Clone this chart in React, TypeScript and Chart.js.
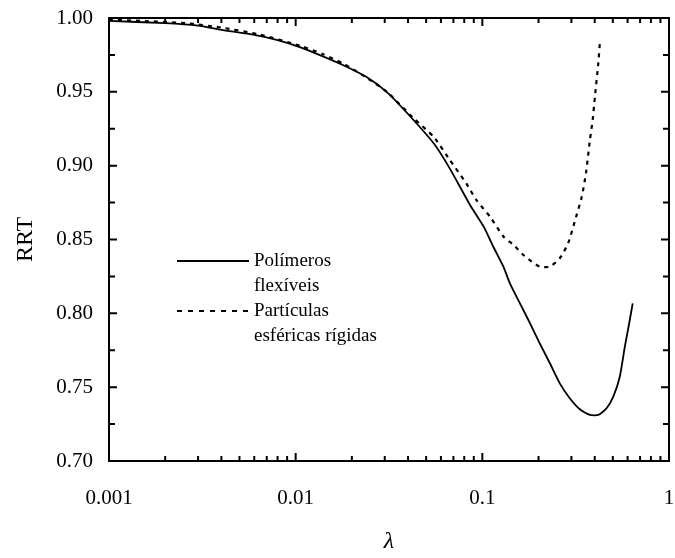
import React, { useEffect, useRef } from "react";
import { Chart, registerables } from "chart.js";

Chart.register(...registerables);

const lambdaFlex = [0.001, 0.002, 0.003, 0.004, 0.006, 0.008, 0.0107, 0.014, 0.018, 0.024, 0.031, 0.04, 0.055, 0.067, 0.0859, 0.1017, 0.1145, 0.1297, 0.1405, 0.159, 0.18, 0.203, 0.23, 0.26, 0.294, 0.333, 0.377, 0.418, 0.463, 0.503, 0.545, 0.58, 0.612, 0.639];
const rrtFlex = [0.998, 0.9965, 0.9948, 0.992, 0.9885, 0.985, 0.98, 0.974, 0.968, 0.96, 0.9495, 0.935, 0.915, 0.898, 0.8734, 0.8587, 0.8451, 0.8316, 0.8203, 0.8068, 0.7933, 0.7797, 0.7662, 0.7526, 0.7425, 0.735, 0.7312, 0.7312, 0.7357, 0.7436, 0.7571, 0.7774, 0.7933, 0.8068];

const lambdaRigid = [0.001, 0.0015, 0.0026, 0.004, 0.0063, 0.0107, 0.014, 0.0182, 0.0237, 0.0308, 0.0425, 0.0548, 0.067, 0.082, 0.093, 0.11, 0.13, 0.147, 0.166, 0.184, 0.203, 0.23, 0.26, 0.288, 0.318, 0.341, 0.359, 0.377, 0.39, 0.401, 0.418, 0.426];
const rrtRigid = [0.9988, 0.998, 0.9965, 0.9935, 0.989, 0.981, 0.9755, 0.9688, 0.96, 0.95, 0.9325, 0.9196, 0.9038, 0.888, 0.8767, 0.8654, 0.8519, 0.8463, 0.8395, 0.835, 0.8316, 0.8316, 0.8373, 0.8474, 0.8654, 0.879, 0.8948, 0.9174, 0.9309, 0.9467, 0.9693, 0.9829];

const xDecades = [0.001, 0.01, 0.1, 1];
const xTickLabels = ["0.001", "0.01", "0.1", "1"];
const seriesLabels = [["Polímeros", "flexíveis"], ["Partículas", "esféricas rígidas"]];
const yTitle = "RRT";
const xTitle = "λ";

const FONT = "'Liberation Serif', 'Times New Roman', serif";

const framePlugin = {
  id: "frameTicks",
  afterDraw(chart: any) {
    const { ctx, chartArea: a, scales } = chart;
    const xs = scales.x;
    const ys = scales.y;
    ctx.save();
    ctx.strokeStyle = "#000";
    ctx.lineWidth = 2;
    ctx.strokeRect(a.left, a.top, a.right - a.left, a.bottom - a.top);
    ctx.lineWidth = 2;
    for (let d = 0; d < xDecades.length; d++) {
      const base = xDecades[d];
      for (let m = 1; m <= 9; m++) {
        const v = base * m;
        if (v > 1.0001) break;
        const px = xs.getPixelForValue(v);
        const len = m === 1 ? 8 : 5;
        ctx.beginPath();
        ctx.moveTo(px, a.bottom);
        ctx.lineTo(px, a.bottom - len);
        ctx.moveTo(px, a.top);
        ctx.lineTo(px, a.top + len);
        ctx.stroke();
      }
    }
    for (let i = 0; i <= 12; i++) {
      const v = 0.7 + i * 0.025;
      const py = ys.getPixelForValue(v);
      const len = i % 2 === 0 ? 8 : 6;
      ctx.beginPath();
      ctx.moveTo(a.left, py);
      ctx.lineTo(a.left + len, py);
      ctx.moveTo(a.right, py);
      ctx.lineTo(a.right - len, py);
      ctx.stroke();
    }
    const lx = a.left + 68;
    const ly = a.top + 243;
    const ds = chart.data.datasets;
    ctx.fillStyle = "#000";
    ctx.font = `19px ${FONT}`;
    ctx.textBaseline = "alphabetic";
    ctx.textAlign = "left";
    for (let k = 0; k < ds.length; k++) {
      const y0 = ly + k * 50;
      ctx.beginPath();
      ctx.lineWidth = 2;
      ctx.setLineDash(ds[k].borderDash ? [5, 6] : []);
      ctx.moveTo(lx, y0);
      ctx.lineTo(lx + 72, y0);
      ctx.stroke();
      ctx.setLineDash([]);
      ctx.fillText(seriesLabels[k][0], lx + 77, y0 + 5);
      ctx.fillText(seriesLabels[k][1], lx + 77, y0 + 30);
    }
    ctx.restore();
  },
};

export default function App() {
  const ref = useRef<HTMLCanvasElement | null>(null);
  useEffect(() => {
    document.body.style.margin = "0";
    const canvas = ref.current;
    if (!canvas) return;
    const chart = new Chart(canvas, {
      type: "line",
      data: {
        datasets: [
          {
            label: seriesLabels[0].join(" "),
            data: lambdaFlex.map((x, i) => ({ x, y: rrtFlex[i] })),
            borderColor: "#000",
            borderWidth: 1.8,
            pointRadius: 0,
            tension: 0.2,
          },
          {
            label: seriesLabels[1].join(" "),
            data: lambdaRigid.map((x, i) => ({ x, y: rrtRigid[i] })),
            borderColor: "#000",
            borderWidth: 2.2,
            borderDash: [4, 5],
            pointRadius: 0,
            tension: 0.2,
          },
        ],
      },
      options: {
        responsive: false,
        animation: false,
        devicePixelRatio: 1,
        layout: { padding: { top: 18, right: 6, left: 0, bottom: 0 } },
        plugins: { legend: { display: false }, tooltip: { enabled: false } },
        scales: {
          x: {
            type: "logarithmic",
            min: 0.001,
            max: 1,
            grid: { display: false, drawTicks: false },
            border: { display: false },
            afterBuildTicks: (s: any) => {
              s.ticks = xDecades.map((v) => ({ value: v }));
            },
            afterFit: (s: any) => {
              s.height = 97;
              s.paddingLeft = 0;
              s.paddingRight = 0;
              s.paddingTop = 0;
              s.paddingBottom = 0;
            },
            ticks: {
              autoSkip: false,
              maxRotation: 0,
              padding: 25,
              color: "#000",
              font: { family: FONT, size: 21 },
              callback: (v: any) => {
                const i = xDecades.findIndex((d) => Math.abs(d - v) < d * 1e-6);
                return i >= 0 ? xTickLabels[i] : "";
              },
            },
            title: {
              display: true,
              text: xTitle,
              color: "#000",
              font: { family: FONT, size: 24, style: "italic" },
              padding: { top: 0, bottom: 2 },
            },
          },
          y: {
            min: 0.7,
            max: 1.0,
            grid: { display: false, drawTicks: false },
            border: { display: false },
            afterFit: (s: any) => {
              s.width = 109;
              s.paddingLeft = 0;
              s.paddingRight = 0;
              s.paddingTop = 0;
              s.paddingBottom = 0;
            },
            ticks: {
              stepSize: 0.05,
              padding: 16,
              color: "#000",
              font: { family: FONT, size: 21 },
              callback: (v: any) => Number(v).toFixed(2),
            },
            title: {
              display: true,
              text: yTitle,
              color: "#000",
              font: { family: FONT, size: 24 },
              padding: { top: 11, bottom: 0 },
            },
          },
        },
      },
      plugins: [framePlugin],
    } as any);
    return () => chart.destroy();
  }, []);
  return (
    <div style={{ width: 675, height: 558, background: "#fff" }}>
      <canvas ref={ref} width={675} height={558} />
    </div>
  );
}
